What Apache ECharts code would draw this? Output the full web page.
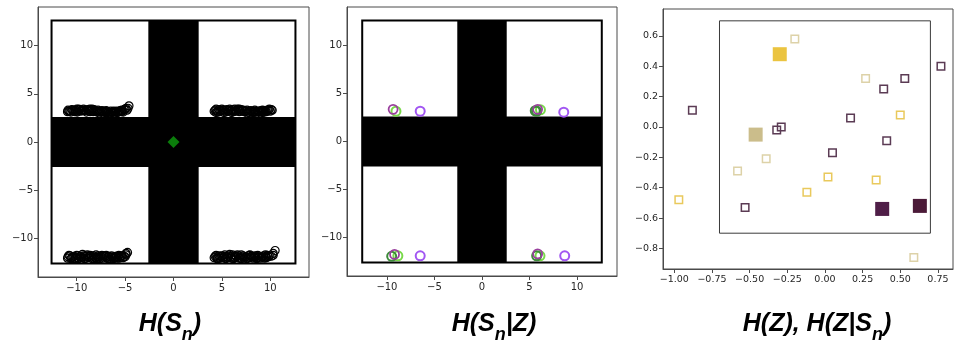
<!DOCTYPE html>
<html><head><meta charset="utf-8">
<script src="https://cdn.jsdelivr.net/npm/echarts@6/dist/echarts.min.js"></script>
<style>html,body{margin:0;padding:0;background:#fff}#c{width:954px;height:341px}</style>
</head><body><div id="c"></div>
<script>
// ---------- data ----------
const ticks12 = [-10, -5, 0, 5, 10];
const ticks3x = [-1.0, -0.75, -0.5, -0.25, 0, 0.25, 0.5, 0.75];
const ticks3y = [-0.8, -0.6, -0.4, -0.2, 0, 0.2, 0.4, 0.6];
const mazeHalf = 12.6;     // outer wall of the maze
const corridorHalf = 2.6;  // half width of the cross corridor
const innerBox = 0.7;      // panel 3 inner square
const titles = [['H(S', 'n', ')'], ['H(S', 'n', '|Z)'], ['H(Z), H(Z|S', 'n', ')']];

// panel 1 : black open circles (states)
const statesTL = [[-10.9,3.3],[-10.7,3.2],[-10.5,3.35],[-10.3,3.25],[-10.1,3.3],[-9.9,3.2],[-9.7,3.35],[-9.5,3.3],[-9.3,3.4],[-9.1,3.25],[-8.9,3.35],[-8.7,3.2],[-8.5,3.3],[-8.3,3.15],[-8.1,3.25],[-7.9,3.1],[-7.7,3.2],[-7.5,3.1],[-7.3,3.15],[-7.1,3.05],[-6.9,3.15],[-6.7,3.1],[-6.5,3.2],[-6.3,3.1],[-6.1,3.15],[-5.9,3.2],[-5.7,3.1],[-5.5,3.25],[-5.3,3.2],[-5.1,3.35],[-4.9,3.5],[-4.8,3.3],[-4.6,3.75],[-10.6,3.1],[-9.8,3.4],[-9.0,3.1],[-8.2,3.35],[-7.4,3.25],[-6.6,3.0],[-5.8,3.05],[-5.2,3.1],
  [-10.8,3.2],[-10.4,3.3],[-10.2,3.15],[-10.0,3.4],[-9.6,3.2],[-9.4,3.25],[-9.2,3.3],[-8.8,3.3],[-8.6,3.15],[-8.4,3.4],[-8.0,3.2],[-7.8,3.3],[-7.6,3.15],[-7.2,3.2],[-7.0,3.1],[-6.8,3.05],[-6.4,3.05],[-6.2,3.2],[-6.0,3.1],[-5.6,3.2],[-5.4,3.15],[-5.0,3.4],[-4.7,3.5],[-10.95,3.15],[-9.95,3.1],[-8.65,3.4],[-7.65,3.0],[-6.95,3.25],[-6.05,3.0],[-5.35,3.3]];
const statesTR = [[4.3,3.3],[4.5,3.2],[4.7,3.35],[4.9,3.25],[5.1,3.3],[5.3,3.2],[5.5,3.35],[5.7,3.3],[5.9,3.2],[6.1,3.35],[6.3,3.4],[6.5,3.25],[6.7,3.3],[6.9,3.2],[7.1,3.25],[7.3,3.15],[7.5,3.2],[7.7,3.1],[7.9,3.2],[8.1,3.1],[8.3,3.15],[8.5,3.1],[8.7,3.2],[8.9,3.1],[9.1,3.15],[9.3,3.25],[9.5,3.2],[9.7,3.3],[9.9,3.4],[10.1,3.35],[4.6,3.1],[5.4,3.1],[6.2,3.15],[7.0,3.35],[7.8,3.05],[8.6,3.0],[9.4,3.1],[10.0,3.2],
  [4.2,3.2],[4.4,3.4],[4.8,3.15],[5.0,3.4],[5.2,3.3],[5.6,3.2],[5.8,3.4],[6.0,3.25],[6.4,3.2],[6.6,3.4],[6.8,3.15],[7.2,3.3],[7.4,3.2],[7.6,3.3],[8.0,3.25],[8.2,3.05],[8.4,3.2],[8.8,3.15],[9.0,3.25],[9.2,3.05],[9.6,3.15],[9.8,3.3],[10.2,3.3],[4.4,3.05],[5.2,3.05],[6.0,3.05],[6.8,3.4],[7.6,3.0],[8.4,3.3],[9.2,3.3]];
const statesBL = [[-10.9,-11.9],[-10.7,-11.8],[-10.5,-12.0],[-10.3,-11.85],[-10.1,-11.95],[-9.9,-11.8],[-9.7,-11.9],[-9.5,-12.0],[-9.3,-11.8],[-9.1,-11.9],[-8.9,-11.7],[-8.7,-11.85],[-8.5,-11.95],[-8.3,-11.8],[-8.1,-12.0],[-7.9,-11.9],[-7.7,-11.95],[-7.5,-11.85],[-7.3,-12.05],[-7.1,-11.9],[-6.9,-12.0],[-6.7,-11.85],[-6.5,-11.95],[-6.3,-11.9],[-6.1,-12.0],[-5.9,-11.85],[-5.7,-11.9],[-5.5,-11.95],[-5.3,-11.8],[-5.1,-11.85],[-4.9,-11.7],[-4.75,-11.45],[-10.6,-12.1],[-9.8,-12.1],[-9.0,-12.05],[-8.2,-12.1],[-7.4,-11.75],[-6.6,-12.1],[-5.8,-12.05],[-5.0,-11.9],[-9.4,-11.65],[-8.0,-11.7],
  [-10.8,-11.75],[-10.4,-11.9],[-10.2,-12.1],[-10.0,-11.75],[-9.6,-11.85],[-9.2,-12.1],[-8.8,-11.95],[-8.6,-11.75],[-8.4,-12.1],[-8.0,-11.95],[-7.8,-11.8],[-7.6,-12.1],[-7.2,-11.8],[-7.0,-11.85],[-6.8,-12.1],[-6.4,-11.8],[-6.2,-12.1],[-6.0,-11.85],[-5.6,-12.05],[-5.4,-11.8],[-5.2,-12.0],[-4.9,-11.55],[-10.95,-12.05],[-9.95,-12.0],[-8.95,-11.8],[-7.95,-12.1],[-6.95,-11.75],[-5.95,-12.0],[-5.65,-11.75]];
const statesBR = [[4.3,-11.85],[4.5,-11.95],[4.7,-11.8],[4.9,-11.9],[5.1,-12.0],[5.3,-11.85],[5.5,-11.9],[5.7,-11.8],[5.9,-11.95],[6.1,-11.85],[6.3,-12.0],[6.5,-11.9],[6.7,-11.8],[6.9,-11.95],[7.1,-11.9],[7.3,-12.05],[7.5,-11.9],[7.7,-11.95],[7.9,-12.0],[8.1,-11.85],[8.3,-11.95],[8.5,-11.9],[8.7,-12.0],[8.9,-11.85],[9.1,-11.9],[9.3,-11.8],[9.5,-11.9],[9.7,-11.75],[9.9,-11.8],[10.3,-11.75],[10.5,-11.25],[4.6,-12.1],[5.4,-12.1],[6.2,-12.1],[7.0,-11.7],[7.8,-11.75],[8.6,-12.1],[9.4,-12.05],[5.8,-11.65],[6.6,-11.7],
  [4.2,-12.0],[4.4,-11.75],[4.8,-12.05],[5.0,-11.8],[5.2,-11.95],[5.6,-12.0],[6.0,-12.05],[6.4,-11.8],[6.8,-12.05],[7.2,-11.8],[7.4,-11.95],[7.6,-12.1],[8.0,-11.85],[8.2,-12.05],[8.4,-11.8],[8.8,-11.95],[9.0,-12.05],[9.2,-11.95],[9.6,-12.0],[9.8,-11.9],[10.1,-11.85],[10.3,-11.55],[4.5,-12.1],[5.3,-11.7],[6.1,-11.7],[7.0,-12.1],[7.9,-11.7],[8.7,-11.75],[9.5,-11.7]];
const goal = [[0, 0]];

// panel 2 : conditional samples
const purpleBright = [[-6.5,3.15],[8.6,3.05],[-6.5,-11.9],[8.7,-11.9]];
const purpleDark = [[-9.35,3.35],[5.85,3.35],[-9.2,-11.75],[5.85,-11.7]];
const greenLight = [[-9.05,3.15],[6.15,3.3],[-8.85,-11.9],[6.1,-11.9]];
const greenDark = [[5.6,3.2],[5.75,3.15],[-9.5,-11.95],[5.75,-11.9]];

// panel 3 : latent codes
const zDarkSmall = [[0.77,0.40],[0.53,0.32],[0.39,0.25],[-0.88,0.11],[0.17,0.06],[-0.32,-0.02],[-0.29,0.0],[0.41,-0.09],[0.05,-0.17],[-0.53,-0.53]];
const zTanSmall = [[-0.2,0.58],[0.27,0.32],[-0.39,-0.21],[-0.58,-0.29],[0.59,-0.86]];
const zYellowSmall = [[0.50,0.08],[0.02,-0.33],[-0.12,-0.43],[0.34,-0.35],[-0.97,-0.48]];
const zBigYellow = [[-0.3,0.48]];
const zBigTan = [[-0.46,-0.05]];
const zBigDark1 = [[0.38,-0.54]];
const zBigDark2 = [[0.63,-0.52]];

// ---------- helpers ----------
const fmt = (d) => (v) => (v < 0 ? '\u2212' : '') + Math.abs(v).toFixed(d);
const frameColor = '#4a4a4a';
function axis(gridIndex, min, max, ticks, digits, fs, margin) {
  return {
    gridIndex, type: 'value', min, max,
    axisLine: { show: true, onZero: false, lineStyle: { color: frameColor, width: 1 } },
    axisTick: { show: true, length: 4, customValues: ticks, lineStyle: { color: frameColor } },
    axisLabel: { customValues: ticks, formatter: fmt(digits), fontSize: fs, color: '#262626', margin: margin, fontFamily: 'DejaVu Sans' },
    splitLine: { show: false }
  };
}
const mazeRects = [
  [-corridorHalf, -mazeHalf, corridorHalf, mazeHalf],
  [-mazeHalf, -corridorHalf, mazeHalf, corridorHalf]
];
const mazeFrame = [[-mazeHalf, -mazeHalf, mazeHalf, mazeHalf]];
function rectSeries(idx, data, fill, stroke, lw, z) {
  return {
    type: 'custom', xAxisIndex: idx, yAxisIndex: idx, data, z, silent: true,
    encode: { x: [0, 2], y: [1, 3] },
    renderItem: (params, api) => {
      const p1 = api.coord([api.value(0), api.value(1)]);
      const p2 = api.coord([api.value(2), api.value(3)]);
      return { type: 'rect',
        shape: { x: Math.min(p1[0], p2[0]), y: Math.min(p1[1], p2[1]), width: Math.abs(p2[0] - p1[0]), height: Math.abs(p2[1] - p1[1]) },
        style: { fill: fill, stroke: stroke, lineWidth: lw } };
    }
  };
}
function scatter(idx, data, symbol, size, fill, stroke, bw, z) {
  return { type: 'scatter', xAxisIndex: idx, yAxisIndex: idx, data, symbol, symbolSize: size, z: z || 5,
    itemStyle: { color: fill, borderColor: stroke, borderWidth: bw, opacity: 1 }, emphasis: { disabled: true }, animation: false };
}

const series = [
  rectSeries(0, mazeRects, '#000', null, 0, 1),
  rectSeries(0, mazeFrame, 'none', '#000', 2, 2),
  scatter(0, statesTL, 'circle', 8, 'rgba(0,0,0,0)', '#000', 1.2),
  scatter(0, statesTR, 'circle', 8, 'rgba(0,0,0,0)', '#000', 1.2),
  scatter(0, statesBL, 'circle', 8, 'rgba(0,0,0,0)', '#000', 1.2),
  scatter(0, statesBR, 'circle', 8, 'rgba(0,0,0,0)', '#000', 1.2),
  scatter(0, goal, 'diamond', 12, '#0b7d0b', '#0b7d0b', 0, 6),

  rectSeries(1, mazeRects, '#000', null, 0, 1),
  rectSeries(1, mazeFrame, 'none', '#000', 2, 2),
  scatter(1, greenLight, 'circle', 9, 'rgba(0,0,0,0)', '#79d94a', 2),
  scatter(1, greenDark, 'circle', 9, 'rgba(0,0,0,0)', '#3d8a3a', 2),
  scatter(1, purpleDark, 'circle', 9, 'rgba(0,0,0,0)', '#9a3f9e', 1.8),
  scatter(1, purpleBright, 'circle', 9, 'rgba(0,0,0,0)', '#a257f2', 2),

  rectSeries(2, [[-innerBox, -innerBox, innerBox, innerBox]], 'none', '#3a3a3a', 1, 1),
  scatter(2, zDarkSmall, 'rect', 7.5, 'rgba(0,0,0,0)', '#5b3b54', 1.5),
  scatter(2, zTanSmall, 'rect', 7.5, 'rgba(0,0,0,0)', '#ddd2a8', 1.5),
  scatter(2, zYellowSmall, 'rect', 7.5, 'rgba(0,0,0,0)', '#e9c95c', 1.5),
  scatter(2, zBigYellow, 'rect', 14, '#ebc440', '#ebc440', 0),
  scatter(2, zBigTan, 'rect', 14, '#cbbd8b', '#cbbd8b', 0),
  scatter(2, zBigDark1, 'rect', 14, '#4f1e47', '#4f1e47', 0),
  scatter(2, zBigDark2, 'rect', 14, '#4b1a38', '#4b1a38', 0)
];

// titles with a lowered subscript, laid out from measured text widths
const mainSize = 25, subSize = 18;
const fam = '"Liberation Sans", Arial, sans-serif';
const mctx = document.createElement('canvas').getContext('2d');
function tw(text, size) { mctx.font = 'italic bold ' + size + 'px ' + fam; return mctx.measureText(text).width; }
const titleX = [170, 494, 817];
const mainTop = 312, subTop = 326;
const graphic = [];
titles.forEach((t, i) => {
  const w0 = tw(t[0], mainSize), w1 = tw(t[1], subSize), w2 = tw(t[2], mainSize);
  let x = titleX[i] - (w0 + w1 + w2) / 2;
  const base = { fontWeight: 'bold', fontStyle: 'italic', fontFamily: fam, fill: '#000', align: 'left', verticalAlign: 'top' };
  graphic.push({ type: 'text', x: x, y: mainTop, silent: true, style: Object.assign({ text: t[0], fontSize: mainSize }, base) });
  graphic.push({ type: 'text', x: x + w0, y: subTop, silent: true, style: Object.assign({ text: t[1], fontSize: subSize }, base) });
  graphic.push({ type: 'text', x: x + w0 + w1, y: mainTop, silent: true, style: Object.assign({ text: t[2], fontSize: mainSize }, base) });
});

const chart = echarts.init(document.getElementById('c'), null, { renderer: 'canvas' });
chart.setOption({
  animation: false,
  backgroundColor: '#fff',
  grid: [
    { left: 38, top: 7, width: 271, height: 270, show: true, borderColor: frameColor, borderWidth: 1, backgroundColor: 'transparent' },
    { left: 347, top: 7, width: 270, height: 269, show: true, borderColor: frameColor, borderWidth: 1, backgroundColor: 'transparent' },
    { left: 663, top: 9, width: 290, height: 260, show: true, borderColor: frameColor, borderWidth: 1, backgroundColor: 'transparent' }
  ],
  xAxis: [axis(0, -14, 14, ticks12, 0, 10, 6), axis(1, -14.2, 14.2, ticks12, 0, 10, 6), axis(2, -1.075, 0.85, ticks3x, 2, 9.5, 6)],
  yAxis: [axis(0, -14, 14, ticks12, 0, 10, 5), axis(1, -14, 14, ticks12, 0, 10, 5), axis(2, -0.936, 0.778, ticks3y, 1, 9.5, 5)],
  series,
  graphic
});
</script></body></html>
